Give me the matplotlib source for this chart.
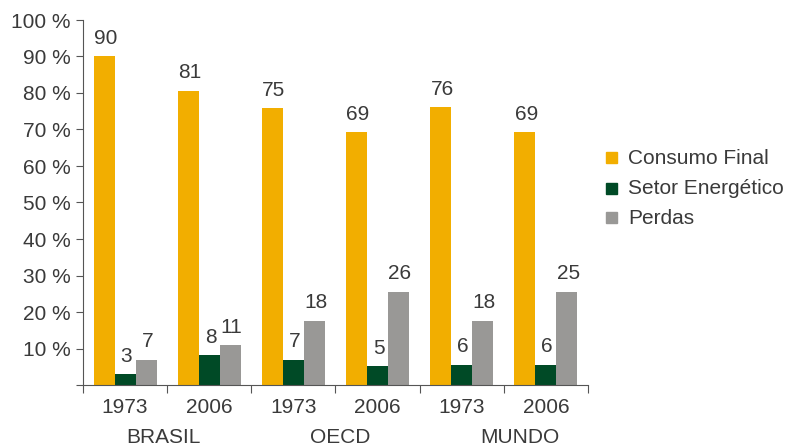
import matplotlib
matplotlib.use("Agg")
import matplotlib.pyplot as plt
import numpy as np
from matplotlib.patches import Rectangle

years = ["1973", "2006", "1973", "2006", "1973", "2006"]
groups = ["BRASIL", "OECD", "MUNDO"]
series_names = ["Consumo Final", "Setor Energético", "Perdas"]
consumo_final = [90.0, 80.6, 75.9, 69.2, 76.1, 69.2]
setor_energetico = [3.0, 8.2, 6.9, 5.2, 5.6, 5.6]
perdas = [6.9, 11.0, 17.6, 25.6, 17.6, 25.6]
consumo_labels = ["90", "81", "75", "69", "76", "69"]
setor_labels = ["3", "8", "7", "5", "6", "6"]
perdas_labels = ["7", "11", "18", "26", "18", "25"]
yticks = [10, 20, 30, 40, 50, 60, 70, 80, 90, 100]

colors = ["#F2AE00", "#004A26", "#999896"]
text_color = "#3a3a3a"
fs = 15

plt.rcParams['font.family'] = ['Liberation Sans', 'DejaVu Sans']

fig = plt.figure(figsize=(7.9, 4.48), dpi=100)
ax = fig.add_axes([83/790, (448-385)/448, (588-83)/790, (385-20)/448])

x = np.arange(len(years))
w = 0.25
data = [consumo_final, setor_energetico, perdas]
labels = [consumo_labels, setor_labels, perdas_labels]
for k, (vals, labs) in enumerate(zip(data, labels)):
    xs = x + (k - 1) * w
    ax.bar(xs, vals, width=w, color=colors[k], label=series_names[k])
    for xi, v, lab in zip(xs, vals, labs):
        ax.annotate(lab, (xi, v), xytext=(1, 6), textcoords="offset points",
                    ha="center", va="bottom", fontsize=fs, color=text_color)

ax.set_xlim(-0.5, len(years) - 0.5)
ax.set_ylim(0, 100)
ax.set_yticks([0] + yticks)
ax.set_yticklabels([""] + [f"{t} %" for t in yticks], fontsize=fs, color=text_color)
ax.tick_params(axis="y", length=5, width=0.8, color="#555555", pad=4)

ax.set_xticks(x)
ax.set_xticklabels(years, fontsize=fs, color=text_color)
ax.tick_params(axis="x", which="major", length=0, pad=9)
ax.set_xticks(np.arange(-0.5, len(years)), minor=True)
ax.tick_params(axis="x", which="minor", length=6, width=0.8, color="#555555")

for s in ["top", "right"]:
    ax.spines[s].set_visible(False)
for s in ["left", "bottom"]:
    ax.spines[s].set_color("#555555")
    ax.spines[s].set_linewidth(0.8)

group_pos = [0.45, 2.55, 4.69]
for g, gx in zip(groups, group_pos):
    ax.text(gx, -14.5, g, ha="center", va="center", fontsize=fs, color=text_color,
            transform=ax.transData, clip_on=False)

# legend
for k, name in enumerate(series_names):
    yy = 158 + 30 * k
    fig.patches.append(Rectangle((606/790, (448 - yy - 5.5)/448), 11/790, 11/448,
                                 transform=fig.transFigure, color=colors[k]))
    fig.text(628/790, (448 - yy)/448, name, ha="left", va="center",
             fontsize=fs, color=text_color)

fig.savefig("out.png", dpi=100)
